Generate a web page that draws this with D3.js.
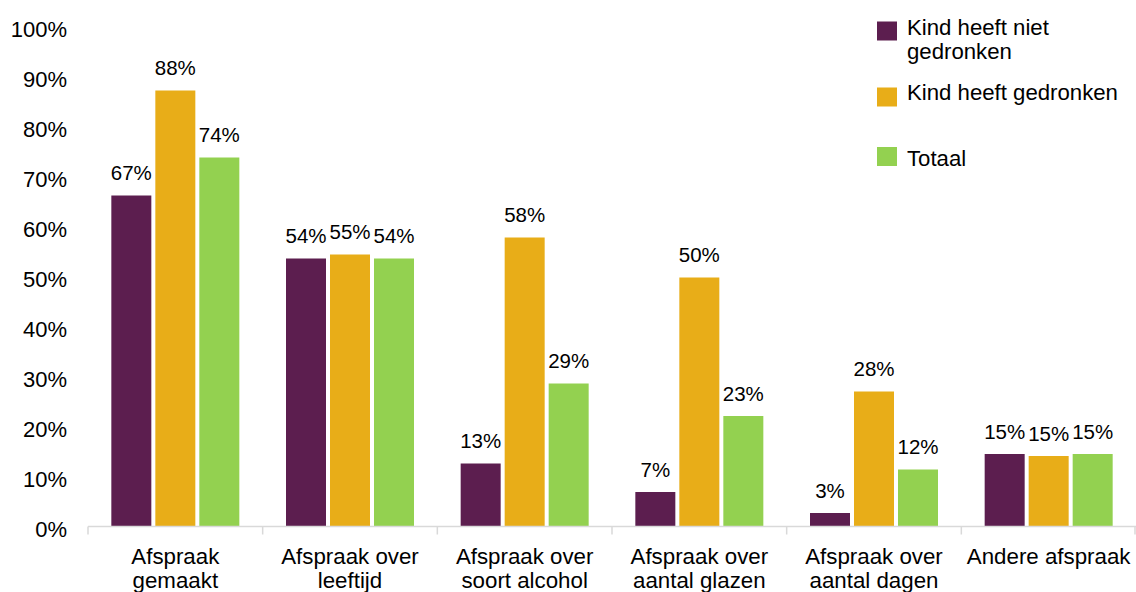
<!DOCTYPE html>
<html>
<head>
<meta charset="utf-8">
<script src="https://cdn.jsdelivr.net/npm/d3@7"></script>
<style>
  html, body { margin: 0; padding: 0; background: #fff; }
  svg { display: block; font-family: "Liberation Sans", Arial, Helvetica, sans-serif; }
</style>
</head>
<body>
<svg id="chart" width="1136" height="592"></svg>
<script>
const categories = [
  ["Afspraak", "gemaakt"],
  ["Afspraak over", "leeftijd"],
  ["Afspraak over", "soort alcohol"],
  ["Afspraak over", "aantal glazen"],
  ["Afspraak over", "aantal dagen"],
  ["Andere afspraak"]
];
const seriesNames = ["Kind heeft niet gedronken", "Kind heeft gedronken", "Totaal"];
const legendLines = [["Kind heeft niet", "gedronken"], ["Kind heeft gedronken"], ["Totaal"]];
const colors = ["#5c1e4f", "#e8ad18", "#93d150"];

const nietGedronken = [66.3, 53.7, 12.7, 7.0, 2.8, 14.6];
const welGedronken  = [87.3, 54.5, 57.9, 49.9, 27.1, 14.2];
const totaal        = [73.9, 53.7, 28.7, 22.2, 11.5, 14.6];

const labelsNiet   = ["67%", "54%", "13%", "7%", "3%", "15%"];
const labelsWel    = ["88%", "55%", "58%", "50%", "28%", "15%"];
const labelsTotaal = ["74%", "54%", "29%", "23%", "12%", "15%"];

const yTicks = [0, 10, 20, 30, 40, 50, 60, 70, 80, 90, 100];

const seriesValues = [nietGedronken, welGedronken, totaal];
const seriesLabels = [labelsNiet, labelsWel, labelsTotaal];

const svg = d3.select("#chart");

const x0 = d3.scaleBand().domain(d3.range(categories.length)).range([88, 1136]).padding(0);
const x1 = d3.scaleBand().domain(d3.range(3)).range([-64, 64]).paddingInner(4 / 44).paddingOuter(0);
const y = d3.scaleLinear().domain([0, 100]).range([527, 27]);

// Y axis labels (no line, no ticks)
const yAxis = d3.axisLeft(y).tickValues(yTicks).tickFormat(d => d + "%").tickSize(0).tickPadding(0);
const yg = svg.append("g").attr("transform", "translate(67,0)").call(yAxis);
yg.select(".domain").remove();
yg.selectAll("text")
  .attr("font-size", 22)
  .attr("font-family", "'Liberation Sans', Arial, sans-serif")
  .attr("fill", "#000")
  .attr("dy", "0.45em");

// Bars
const groups = svg.append("g").selectAll("g")
  .data(categories.map((c, i) => i))
  .join("g")
  .attr("transform", i => `translate(${x0(i) + x0.bandwidth() / 2},0)`);

groups.selectAll("rect")
  .data(i => seriesValues.map((vals, s) => ({ s, v: vals[i], label: seriesLabels[s][i] })))
  .join("rect")
  .attr("x", d => x1(d.s))
  .attr("width", x1.bandwidth())
  .attr("y", d => y(d.v))
  .attr("height", d => y(0) - y(d.v))
  .attr("fill", d => colors[d.s]);

groups.selectAll("text.val")
  .data(i => seriesValues.map((vals, s) => ({ s, v: vals[i], label: seriesLabels[s][i] })))
  .join("text")
  .attr("class", "val")
  .attr("x", d => x1(d.s) + x1.bandwidth() / 2)
  .attr("y", d => y(d.v) - 15.5)
  .attr("text-anchor", "middle")
  .attr("font-size", 20.5)
  .attr("fill", "#000")
  .text(d => d.label);

// X axis
const xAxis = d3.axisBottom(x0).tickSize(0).tickFormat("");
const xg = svg.append("g").attr("transform", "translate(0,526.5)").call(xAxis);
xg.select(".domain").attr("stroke", "#d9d9d9").attr("stroke-width", 1.5)
  .attr("d", "M88,0H1136");
xg.selectAll(".tick").remove();
const bounds = d3.range(categories.length + 1).map(i => i < categories.length ? x0(i) : x0(i - 1) + x0.bandwidth());
xg.selectAll("line.sep").data(bounds).join("line")
  .attr("class", "sep")
  .attr("x1", d => Math.min(d, 1135)).attr("x2", d => Math.min(d, 1135))
  .attr("y1", 0).attr("y2", 8)
  .attr("stroke", "#d9d9d9").attr("stroke-width", 1.5);

// Category labels
const catText = svg.append("g").selectAll("text")
  .data(categories)
  .join("text")
  .attr("text-anchor", "middle")
  .attr("font-size", 22.3)
  .attr("fill", "#000")
  .attr("x", (d, i) => x0(i) + x0.bandwidth() / 2)
  .attr("y", 564);
catText.selectAll("tspan")
  .data(d => d)
  .join("tspan")
  .attr("x", function () { return d3.select(this.parentNode).attr("x"); })
  .attr("dy", (d, j) => j === 0 ? 0 : 24)
  .text(d => d);

// Legend
const legendY = [21.5, 87.5, 147];
const legendTextY = [34.5, 99.5, 165.5];
const legend = svg.append("g");
legendLines.forEach((lines, i) => {
  legend.append("rect")
    .attr("x", 877).attr("y", legendY[i])
    .attr("width", 20).attr("height", 19)
    .attr("fill", colors[i]);
  const t = legend.append("text")
    .attr("x", 907).attr("y", legendTextY[i])
    .attr("font-size", 22.2).attr("fill", "#000");
  lines.forEach((ln, j) => {
    t.append("tspan").attr("x", 907).attr("dy", j === 0 ? 0 : 24).text(ln);
  });
});
</script>
</body>
</html>
